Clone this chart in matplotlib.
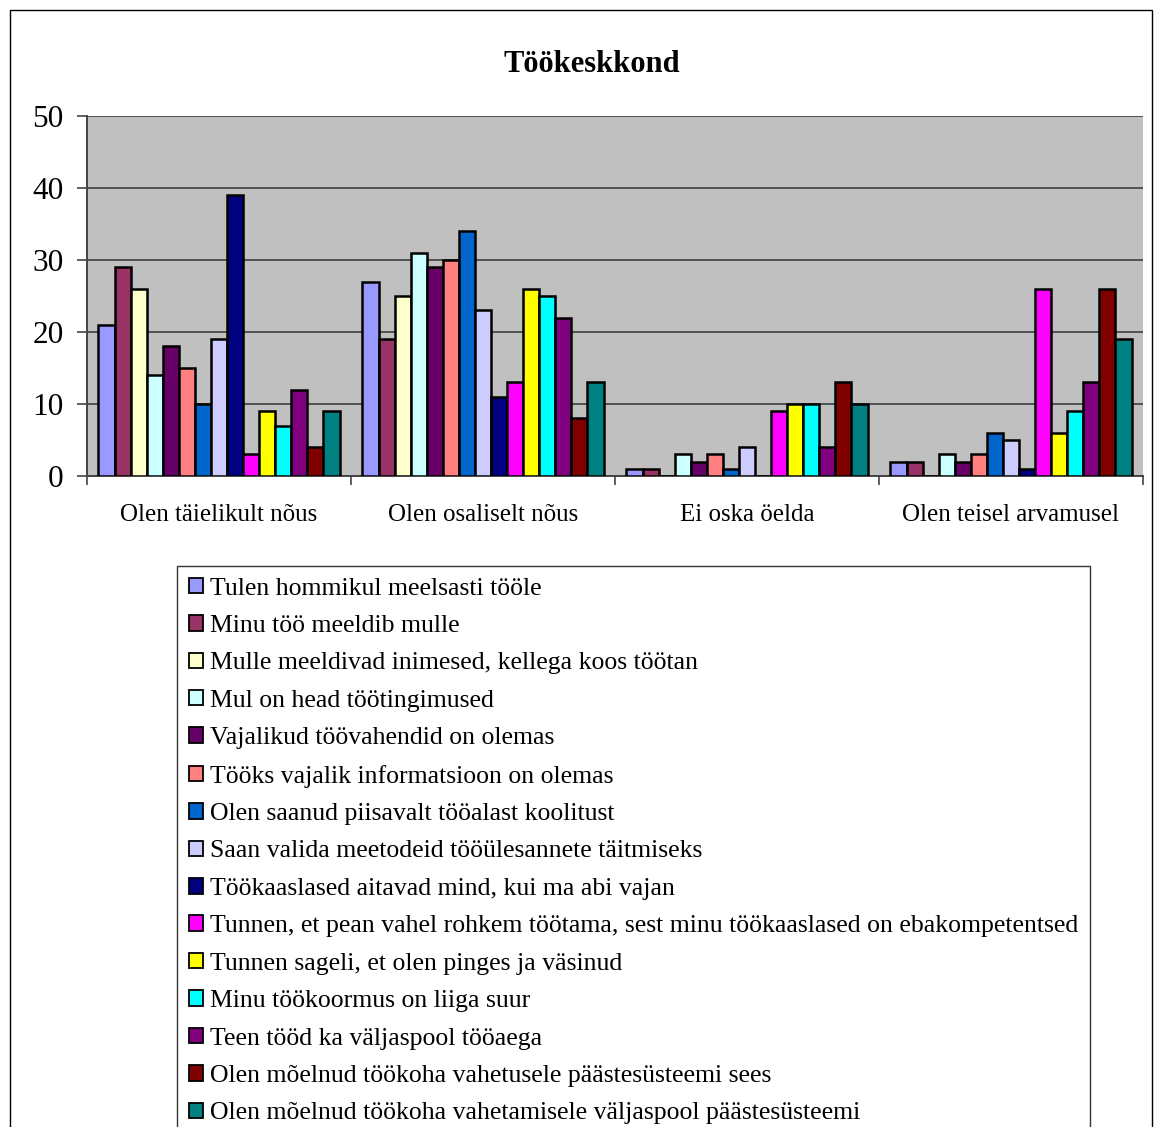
import matplotlib
matplotlib.use("Agg")
import matplotlib.pyplot as plt
import numpy as np
from matplotlib.patches import Patch, Rectangle

plt.rcParams['font.family'] = ['Liberation Serif', 'DejaVu Serif']

categories = ["Olen täielikult nõus", "Olen osaliselt nõus", "Ei oska öelda", "Olen teisel arvamusel"]

series_names = [
    "Tulen hommikul meelsasti tööle",
    "Minu töö meeldib mulle",
    "Mulle meeldivad inimesed, kellega koos töötan",
    "Mul on head töötingimused",
    "Vajalikud töövahendid on olemas",
    "Tööks vajalik informatsioon on olemas",
    "Olen saanud piisavalt tööalast koolitust",
    "Saan valida meetodeid tööülesannete täitmiseks",
    "Töökaaslased aitavad mind, kui ma abi vajan",
    "Tunnen, et pean vahel rohkem töötama, sest minu töökaaslased on ebakompetentsed",
    "Tunnen sageli, et olen pinges ja väsinud",
    "Minu töökoormus on liiga suur",
    "Teen tööd ka väljaspool tööaega",
    "Olen mõelnud töökoha vahetusele päästesüsteemi sees",
    "Olen mõelnud töökoha vahetamisele väljaspool päästesüsteemi",
]

series_colors = [
    "#9999FF", "#993366", "#FFFFCC", "#CCFFFF", "#660066",
    "#FF8080", "#0066CC", "#CCCCFF", "#000080", "#FF00FF",
    "#FFFF00", "#00FFFF", "#800080", "#800000", "#008080",
]

# values per series, one entry per category
values = [
    [21, 27, 1, 2],
    [29, 19, 1, 2],
    [26, 25, 0, 0],
    [14, 31, 3, 3],
    [18, 29, 2, 2],
    [15, 30, 3, 3],
    [10, 34, 1, 6],
    [19, 23, 4, 5],
    [39, 11, 0, 1],
    [3, 13, 9, 26],
    [9, 26, 10, 6],
    [7, 25, 10, 9],
    [12, 22, 4, 13],
    [4, 8, 13, 26],
    [9, 13, 10, 19],
]

W, H = 1161, 1127
fig = plt.figure(figsize=(W / 100, H / 100), dpi=100)

# outer chart frame
fig.patches.append(Rectangle((10 / W, -0.01), (1152 - 10) / W, 1 - 10 / H + 0.01,
                             transform=fig.transFigure, fill=False,
                             edgecolor="black", linewidth=1.0))

ax = fig.add_axes([87 / W, 1 - 476 / H, (1143 - 87) / W, (476 - 116) / H])
ax.set_facecolor("#C0C0C0")

n = len(series_names)
group_frac = 0.913
bw = group_frac / n
x = np.arange(len(categories))
for i, (vals, col) in enumerate(zip(values, series_colors)):
    offs = -group_frac / 2 + bw * (i + 0.5)
    ax.bar(x + offs, vals, width=bw, color=col, edgecolor="black",
           linewidth=1.8, zorder=3, label=series_names[i])

ax.set_xlim(-0.5, len(categories) - 0.5)
ax.set_ylim(0, 50)
ax.set_yticks([0, 10, 20, 30, 40, 50])
ax.yaxis.grid(True, color="#505050", linewidth=1.4, zorder=1)
ax.set_axisbelow(True)
ax.tick_params(axis="y", labelsize=22.5, length=7, width=1.2, direction="out",
               pad=10, color="#444444")

ax.set_xticks(x)
ax.set_xticklabels(categories, fontsize=18)
ax.tick_params(axis="x", length=0, pad=20)
ax.set_xticks(np.arange(-0.5, len(categories) + 0.5, 1), minor=True)
ax.tick_params(axis="x", which="minor", length=6.5, width=1.2, direction="out",
               color="#444444")

for side in ["top", "right"]:
    ax.spines[side].set_visible(False)
ax.spines["left"].set_color("#444444")
ax.spines["left"].set_linewidth(1.4)
ax.spines["bottom"].set_color("#444444")
ax.spines["bottom"].set_linewidth(1.4)

fig.text(592 / W, 1 - 64 / H, "Töökeskkond", ha="center", va="center",
         fontsize=22, fontweight="bold")

handles = [Patch(facecolor=c, edgecolor="black", linewidth=1.3) for c in series_colors]
leg = fig.legend(handles, series_names, loc="upper left",
                 bbox_to_anchor=(177 / W, 1 - 566 / H), fontsize=18.5,
                 frameon=True, fancybox=False, edgecolor="black",
                 handlelength=0.55, handleheight=0.55, handletextpad=0.3,
                 labelspacing=0.6, borderpad=0.45, borderaxespad=0)
leg.get_frame().set_linewidth(1.0)

fig.savefig("out.png", dpi=100)
